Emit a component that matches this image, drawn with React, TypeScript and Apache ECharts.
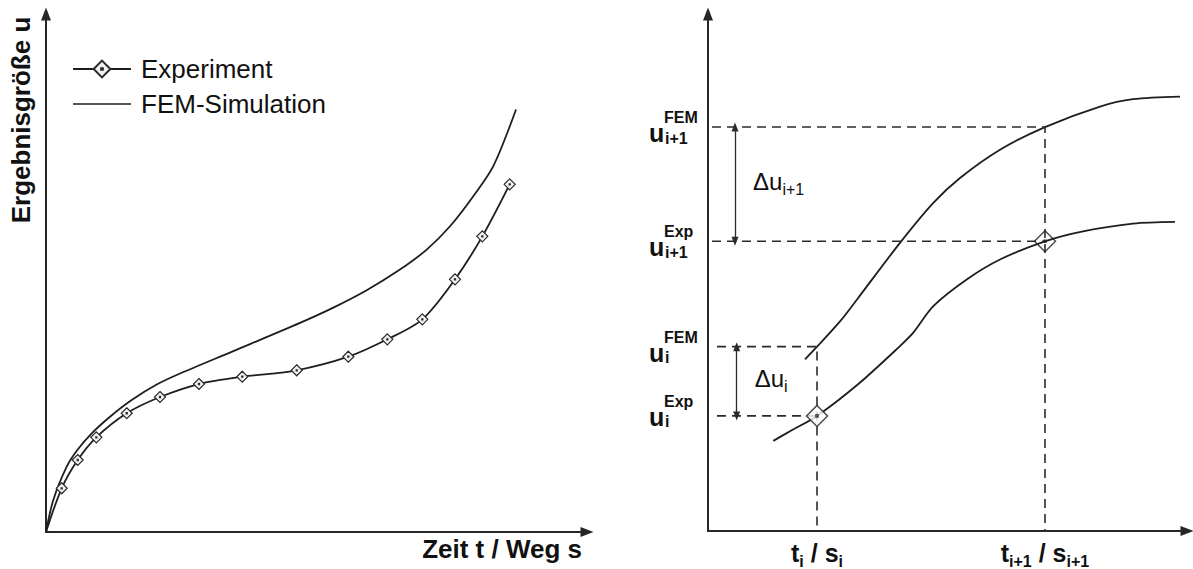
import React, { useEffect, useRef } from "react";
import * as echarts from "echarts";

const FONT = '"Liberation Sans", Arial, Helvetica, sans-serif';
const INK = "#1e1e1e";
const TEXT = "#111111";

// ---------- left panel (normalised 0..100 axes) ----------
const seriesNames = ["Experiment", "FEM-Simulation"];
const yTitle = "Ergebnisgröße u";
const xTitle = "Zeit t / Weg s";

const expLeftX = [0, 2.9, 5.86, 9.3, 14.92, 21.07, 28.28, 36.28, 46.34, 55.88, 63.09, 69.56, 75.6, 80.65, 85.71];
const expLeftY = [0, 8.44, 13.9, 18.28, 22.92, 26.06, 28.57, 29.98, 31.22, 33.84, 37.2, 41.06, 48.78, 57.08, 67.12];

const femLeftX = [0, 1.35, 3.83, 5.79, 8.45, 11.83, 15.84, 20.46, 24.77, 34.62, 46.95, 53.11, 59.28, 65.43, 70.37, 74.68, 78.98, 82.68, 86.88];
const femLeftY = [0, 6.18, 12.61, 15.83, 19.05, 22.26, 25.48, 28.47, 30.6, 34.92, 40.37, 43.32, 46.68, 50.66, 54.52, 59.02, 64.83, 70.62, 81.56];

// ---------- right panel (normalised 0..100 axes) ----------
const tI = 22.76;
const tI1 = 70.35;
const uIFem = 35.66;
const uIExp = 22.26;
const uI1Fem = 78.13;
const uI1Exp = 56.04;

const femRightX = [20.25, 22.76, 27.56, 31.11, 40.08, 47.04, 52.61, 60.96, 70.35, 81.84, 88.73, 98.54];
const femRightY = [33.2, 35.66, 40.54, 44.79, 55.73, 63.46, 68.28, 73.75, 78.13, 82.1, 83.53, 84.03];

const expRightX = [13.63, 17.12, 22.76, 31.32, 40.08, 42.86, 47.04, 54.01, 60.96, 70.35, 78.29, 88.73, 97.49];
const expRightY = [17.43, 19.31, 22.26, 28.38, 35.77, 38.36, 43.49, 48.65, 52.51, 56.04, 57.97, 59.46, 59.79];

const xTickValues = [tI, tI1];
const xTickLabels = ["{m|t}{s|i}{m| / s}{s|i}", "{m|t}{s|i+1}{m| / s}{s|i+1}"];

const dashStartI = 1.88;
const dashStartI1 = 0.84;
const arrowXI = 5.99;
const arrowXI1 = 5.64;

const uLabels = [
  { v: uI1Fem, sup: "FEM", sub: "i+1", dy: 0 },
  { v: uI1Exp, sup: "Exp", sub: "i+1", dy: 0 },
  { v: uIFem, sup: "FEM", sub: "i", dy: 0 },
  { v: uIExp, sup: "Exp", sub: "i", dy: -5 },
];
const deltaLabels = [
  { x: arrowXI1, top: uI1Fem, bottom: uI1Exp, sub: "i+1" },
  { x: arrowXI, top: uIFem, bottom: uIExp, sub: "i" },
];

const DIAMOND = "path://M0,-10L10,0L0,10L-10,0Z M-1,-1L1,-1L1,1L-1,1Z";
const LINE_ICON = "path://M0,0L100,0L100,3L0,3Z";

const zip = (xs: number[], ys: number[]) => xs.map((x, i) => [x, ys[i]]);

function hiddenAxis(gridIndex: number) {
  return {
    type: "value",
    gridIndex,
    min: 0,
    max: 100,
    axisLine: {
      show: true,
      symbol: ["none", "triangle"],
      symbolSize: [10, 13],
      lineStyle: { color: "#262626", width: 2 },
    },
    axisTick: { show: false },
    axisLabel: { show: false },
    splitLine: { show: false },
  };
}

export default function App() {
  const ref = useRef<HTMLDivElement>(null);
  useEffect(() => {
    const chart = echarts.init(ref.current!, null, { renderer: "svg" });
    const dashed = { color: "#2b2b2b", width: 1.6, type: [9, 6] };
    const xRight: any = hiddenAxis(1);
    xRight.axisLabel = {
      show: true,
      customValues: xTickValues,
      margin: 6,
      fontFamily: FONT,
      fontSize: 25,
      fontWeight: "bold",
      color: TEXT,
      formatter: (v: number) => {
        const i = xTickValues.findIndex((t) => Math.abs(t - v) < 1e-6);
        return i >= 0 ? xTickLabels[i] : "";
      },
      rich: {
        m: { fontFamily: FONT, fontSize: 25, fontWeight: "bold", color: TEXT, lineHeight: 32 },
        s: { fontFamily: FONT, fontSize: 16, fontWeight: "bold", color: TEXT, lineHeight: 16, verticalAlign: "bottom" },
      },
    };
    const curve = { type: "line", smooth: 0.3, symbol: "none", lineStyle: { color: INK, width: 1.8 } };
    const option: any = {
      animation: false,
      backgroundColor: "#ffffff",
      grid: [
        { left: 46, top: 14, width: 541, height: 518 },
        { left: 708, top: 14, width: 479, height: 518 },
      ],
      xAxis: [hiddenAxis(0), xRight],
      yAxis: [hiddenAxis(0), hiddenAxis(1)],
      legend: {
        data: [{ name: seriesNames[0] }, { name: seriesNames[1], icon: LINE_ICON }],
        orient: "vertical",
        left: 67,
        top: 51,
        itemWidth: 58,
        itemHeight: 21,
        itemGap: 9,
        symbolKeepAspect: true,
        selectedMode: false,
        textStyle: { fontFamily: FONT, fontSize: 26, color: TEXT, lineHeight: 26, padding: [0, 0, 0, 5] },
      },
      series: [
        {
          ...curve,
          name: seriesNames[0],
          xAxisIndex: 0,
          yAxisIndex: 0,
          symbol: DIAMOND,
          symbolSize: 11,
          itemStyle: { color: "#f2f2f2", borderColor: "#2a2a2a", borderWidth: 1.2 },
          data: expLeftX.map((x, i) => (i === 0 ? { value: [x, expLeftY[i]], symbol: "none" } : [x, expLeftY[i]])),
          z: 3,
        },
        {
          ...curve,
          name: seriesNames[1],
          xAxisIndex: 0,
          yAxisIndex: 0,
          itemStyle: { color: INK },
          data: zip(femLeftX, femLeftY),
        },
        {
          ...curve,
          name: "FEM (Detail)",
          xAxisIndex: 1,
          yAxisIndex: 1,
          data: zip(femRightX, femRightY),
        },
        {
          ...curve,
          name: "Experiment (Detail)",
          xAxisIndex: 1,
          yAxisIndex: 1,
          data: zip(expRightX, expRightY),
        },
        {
          name: "dash i FEM",
          type: "line",
          xAxisIndex: 1,
          yAxisIndex: 1,
          symbol: "none",
          lineStyle: dashed,
          data: [[dashStartI, uIFem], [tI, uIFem], [tI, 0]],
          markLine: {
            silent: true,
            symbol: ["triangle", "triangle"],
            symbolSize: [7, 9],
            label: { show: false },
            lineStyle: { color: "#2b2b2b", width: 1.3, type: "solid" },
            emphasis: { disabled: true },
            data: deltaLabels.map((d) => [{ coord: [d.x, d.top] }, { coord: [d.x, d.bottom] }]),
          },
        },
        {
          name: "dash i Exp",
          type: "line",
          xAxisIndex: 1,
          yAxisIndex: 1,
          symbol: "none",
          lineStyle: dashed,
          data: [[dashStartI, uIExp], [tI, uIExp]],
        },
        {
          name: "dash i+1 FEM",
          type: "line",
          xAxisIndex: 1,
          yAxisIndex: 1,
          symbol: "none",
          lineStyle: dashed,
          data: [[dashStartI1, uI1Fem], [tI1, uI1Fem], [tI1, 0]],
        },
        {
          name: "dash i+1 Exp",
          type: "line",
          xAxisIndex: 1,
          yAxisIndex: 1,
          symbol: "none",
          lineStyle: dashed,
          data: [[dashStartI1, uI1Exp], [tI1, uI1Exp]],
        },
        {
          name: "Messpunkte",
          type: "scatter",
          xAxisIndex: 1,
          yAxisIndex: 1,
          symbol: DIAMOND,
          symbolSize: 21,
          z: 5,
          itemStyle: { color: "#ffffff", borderColor: "#222", borderWidth: 1.5 },
          data: [
            { value: [tI, uIExp] },
            { value: [tI1, uI1Exp], itemStyle: { color: "rgba(255,255,255,0)" } },
          ],
        },
      ],
    };
    chart.setOption(option);

    const toPx = (x: number, y: number) => chart.convertToPixel({ gridIndex: 1 } as any, [x, y]) as number[];
    const graphics: any[] = [
      {
        type: "text",
        x: 21,
        y: 120,
        rotation: Math.PI / 2,
        style: { text: yTitle, fontFamily: FONT, fontSize: 26, fontWeight: "bold", fill: TEXT, align: "center", verticalAlign: "middle" },
      },
      {
        type: "text",
        x: 582,
        y: 549,
        style: { text: xTitle, fontFamily: FONT, fontSize: 26, fontWeight: "bold", fill: TEXT, align: "right", verticalAlign: "middle" },
      },
    ];
    uLabels.forEach((l) => {
      const [ax, py] = toPx(0, l.v);
      const y = py + l.dy;
      graphics.push(
        { type: "text", x: ax - 59, y: y + 6, style: { text: "u", fontFamily: FONT, fontSize: 25, fontWeight: "bold", fill: TEXT, align: "left", verticalAlign: "middle" } },
        { type: "text", x: ax - 44, y: y - 9.5, style: { text: l.sup, fontFamily: FONT, fontSize: 16, fontWeight: "bold", fill: TEXT, align: "left", verticalAlign: "middle" } },
        { type: "text", x: ax - 43, y: y + 11, style: { text: l.sub, fontFamily: FONT, fontSize: 16, fontWeight: "bold", fill: TEXT, align: "left", verticalAlign: "middle" } }
      );
    });
    deltaLabels.forEach((d) => {
      const [px, pTop] = toPx(d.x, d.top);
      const [, pBot] = toPx(d.x, d.bottom);
      graphics.push({
        type: "text",
        x: px + 18,
        y: (pTop + pBot) / 2 - 3,
        style: {
          text: "{a|Δu}{b|" + d.sub + "}",
          align: "left",
          verticalAlign: "middle",
          rich: {
            a: { fontFamily: FONT, fontSize: 24, fill: TEXT, lineHeight: 32 },
            b: { fontFamily: FONT, fontSize: 16, fill: TEXT, lineHeight: 16, verticalAlign: "bottom" },
          },
        },
      });
    });
    chart.setOption({ graphic: graphics });
    return () => chart.dispose();
  }, []);
  return (
    <div
      ref={ref}
      style={{ position: "fixed", left: 0, top: 0, width: 1193, height: 569, background: "#ffffff" }}
    />
  );
}
